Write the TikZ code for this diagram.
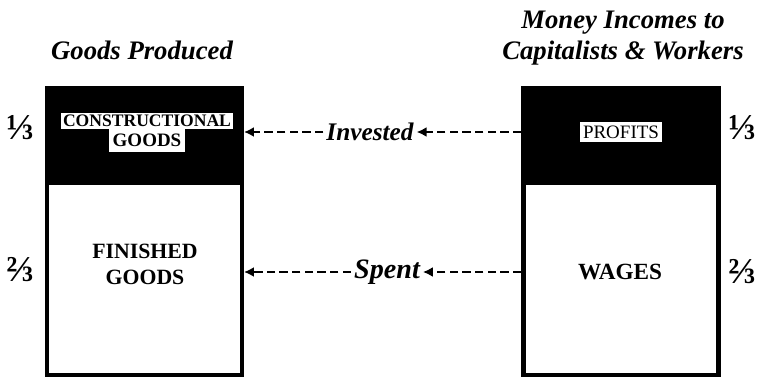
\documentclass[tikz,border=0pt]{standalone}
\usepackage{fontspec}
\setmainfont{Liberation Serif}
\usetikzlibrary{positioning,arrows.meta}

\tikzset{
  colbox/.style={draw, line width=3pt, minimum width=4.875cm, minimum height=7.175cm, inner sep=0pt},
  blacktop/.style={fill=black, minimum width=4.875cm, minimum height=2.475cm, inner sep=0pt, anchor=north},
  caplabel/.style={font=\bfseries\fontsize{15.5}{18.5}\selectfont, align=center},
  whitelabel/.style={fill=white, text=black, font=\bfseries\fontsize{12.5}{13}\selectfont, inner sep=1.5pt},
  title/.style={font=\bfseries\itshape\fontsize{19}{22}\selectfont, align=center},
  flowlabel/.style={font=\bfseries\itshape\fontsize{18}{20}\selectfont, inner sep=2pt},
  flow/.style={line width=1.3pt, dash pattern=on 6pt off 3pt, -{Latex[length=7pt,width=7pt]}},
  share/.style={font=\bfseries\fontsize{26}{28}\selectfont, inner sep=0pt}
}

\begin{document}
\begin{tikzpicture}
    \useasboundingbox (0,0) rectangle (19.05,9.5);

    % Goods side
    \node [colbox] (goods) at (3.61,3.71) {};
    \node [blacktop] (constr) at (goods.north) {};
    \node [whitelabel] (constrtxt) at (3.675,6.48) {CONSTRUCTIONAL};
    \node [whitelabel, below=0pt of constrtxt, font=\bfseries\fontsize{13.5}{14}\selectfont, inner xsep=3pt, inner ysep=3.5pt] (constrgoods) {GOODS};
    \node [caplabel] (finished) at (3.625,2.9) {FINISHED\\GOODS};
    \node [title] (goodstitle) at (3.55,8.25) {Goods Produced};
    \node [share] (gone) at (0.5,6.3) {⅓};
    \node [share] (gtwo) at (0.5,2.75) {⅔};

    % Incomes side
    \node [colbox] (incomes) at (15.525,3.71) {};
    \node [blacktop] (profitsbox) at (incomes.north) {};
    \node [whitelabel, font=\fontsize{13.5}{14}\selectfont, inner sep=2.5pt] (profits) at (15.525,6.2) {PROFITS};
    \node [caplabel, font=\bfseries\fontsize{16.5}{19}\selectfont] (wages) at (15.5,2.7) {WAGES};
    \node [title] (incometitle) at (15.575,8.55) {Money Incomes to\\Capitalists \& Workers};
    \node [share] (ione) at (18.55,6.3) {⅓};
    \node [share] (itwo) at (18.55,2.7) {⅔};

    % Flows
    \node [flowlabel] (invested) at (9.25,6.2) {Invested};
    \node [flowlabel, font=\bfseries\itshape\fontsize{20}{22}\selectfont] (spent) at (9.675,2.7) {Spent};
    \draw [flow] (invested -| incomes.west) -- (invested.east);
    \draw [flow] (invested.west) -- (invested -| goods.east);
    \draw [flow] (spent -| incomes.west) -- (spent.east);
    \draw [flow] (spent.west) -- (spent -| goods.east);
\end{tikzpicture}
\end{document}
